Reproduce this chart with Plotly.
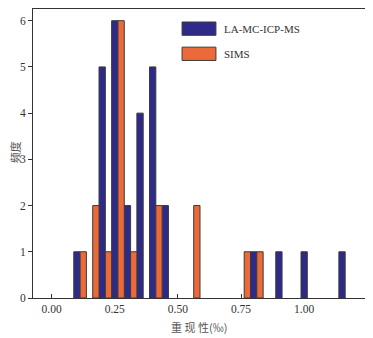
import plotly.graph_objects as go

# histogram bins (centres) and counts
la_x = [0.10, 0.20, 0.25, 0.30, 0.35, 0.40, 0.45, 0.80, 0.90, 1.00, 1.15]
la_count = [1, 5, 6, 2, 4, 5, 2, 1, 1, 1, 1]

sims_x = [0.125, 0.175, 0.225, 0.275, 0.325, 0.425, 0.575, 0.775, 0.825]
sims_count = [1, 2, 1, 6, 1, 2, 2, 1, 1]

x_ticks = [0.0, 0.25, 0.5, 0.75, 1.0]
x_ticklabels = ["0.00", "0.25", "0.50", "0.75", "1.00"]
y_ticks = [0, 1, 2, 3, 4, 5, 6]

BLUE = "#2e2a8a"
ORANGE = "#ec6a3a"
EDGE = "#3a3a3a"
SERIF = "Liberation Serif, Times New Roman, serif"
CJK = "Noto Sans CJK SC"

fig = go.Figure()
fig.add_trace(
    go.Bar(
        x=la_x,
        y=la_count,
        width=0.025,
        name="LA-MC-ICP-MS",
        marker=dict(color=BLUE, line=dict(color=EDGE, width=1)),
        showlegend=False,
    )
)
fig.add_trace(
    go.Bar(
        x=sims_x,
        y=sims_count,
        width=0.025,
        name="SIMS",
        marker=dict(color=ORANGE, line=dict(color=EDGE, width=1)),
        showlegend=False,
    )
)

# hand-drawn legend (wide swatches like the original)
legend_items = [("LA-MC-ICP-MS", BLUE, 0.932), ("SIMS", ORANGE, 0.845)]
for label, color, yc in legend_items:
    fig.add_shape(
        type="rect",
        xref="paper",
        yref="paper",
        x0=0.449,
        x1=0.551,
        y0=yc - 0.023,
        y1=yc + 0.023,
        fillcolor=color,
        line=dict(color=EDGE, width=1),
    )
    fig.add_annotation(
        x=0.568,
        y=yc,
        xref="paper",
        yref="paper",
        text=label,
        showarrow=False,
        xanchor="left",
        yanchor="middle",
        font=dict(family=SERIF, size=11, color="#333"),
    )

# axis titles as annotations so the plot area stays put
fig.add_annotation(
    x=0.5015, y=-0.1015, xref="paper", yref="paper",
    text="重 现 性(‰)", showarrow=False, yanchor="middle",
    font=dict(family=CJK, size=11, color="#555"),
)
fig.add_annotation(
    x=-0.055, y=0.503, xref="paper", yref="paper",
    text="频度", showarrow=False, textangle=-90, xanchor="center",
    font=dict(family=CJK, size=11, color="#555"),
)

# page body has an 8px margin, so the figure is 8px smaller each way
fig.update_layout(
    width=365,
    height=330,
    margin=dict(l=25, r=8, t=1, b=40.3),
    barmode="overlay",
    plot_bgcolor="white",
    paper_bgcolor="white",
    font=dict(family=SERIF, size=11.5, color="#333"),
    xaxis=dict(
        range=[-0.074, 1.241],
        tickvals=x_ticks,
        ticktext=x_ticklabels,
        ticks="inside",
        ticklen=4,
        tickcolor="#333",
        showline=True,
        linecolor="#333",
        linewidth=1,
        mirror=True,
        showgrid=False,
        zeroline=False,
        automargin=False,
    ),
    yaxis=dict(
        range=[0, 6.253],
        tickvals=y_ticks,
        ticks="outside",
        ticklen=4,
        tickcolor="#333",
        showline=True,
        linecolor="#333",
        linewidth=1,
        mirror=True,
        showgrid=False,
        zeroline=False,
        automargin=False,
    ),
)

fig.write_html("out.html")
